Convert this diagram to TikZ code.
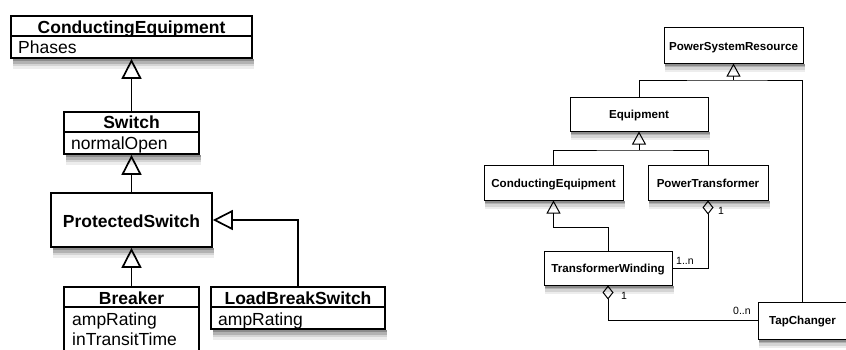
\documentclass[tikz,border=0pt]{standalone}
\usepackage{fontspec}
\setmainfont{Liberation Sans}
\usetikzlibrary{arrows.meta}

\begin{document}
\begin{tikzpicture}[x=1pt,y=-1pt,
  shadeA/.style={fill=black!45},
  shadeB/.style={fill=black!30},
  shadeC/.style={fill=black!17},
  shadeD/.style={fill=black!7},
  bigbox/.style={draw,line width=1.7pt,fill=white,inner sep=0pt},
  smallbox/.style={draw,line width=1pt,fill=white,inner sep=0pt},
  bigtitle/.style={font=\fontsize{17.5}{20}\selectfont\bfseries,inner sep=0pt,anchor=base},
  bigattr/.style={font=\fontsize{17.5}{20}\selectfont,inner sep=0pt,anchor=base west},
  smalltitle/.style={font=\fontsize{11.6}{13}\selectfont\bfseries,inner sep=0pt,anchor=base},
  mult/.style={font=\fontsize{10.5}{12}\selectfont,inner sep=0pt,anchor=base west},
  divider/.style={line width=1.7pt},
  biggen/.style={line width=1.7pt,-{Triangle[open,length=20pt,width=20pt]}},
  smallgen/.style={line width=1pt,-{Triangle[open,length=13pt,width=14pt]}},
  agg/.style={line width=1pt,{Diamond[open,length=14pt,width=11pt]}-},
  link/.style={line width=1pt}
]
\useasboundingbox (0,0) rectangle (846,349);

% ---------- boxes: class hierarchy of switches ----------
\node[bigbox,minimum width=241pt,minimum height=42pt] (ce) at (131.5,37) {};
\node[bigbox,minimum width=135pt,minimum height=42pt] (sw) at (131.5,133) {};
\node[bigbox,minimum width=161pt,minimum height=54pt] (ps) at (131.5,220) {};
\node[bigbox,minimum width=135pt,minimum height=93pt] (br) at (131.5,333.5) {};
\node[bigbox,minimum width=174pt,minimum height=42pt] (lb) at (298,308) {};

% ---------- boxes: transformer model ----------
\node[smallbox,minimum width=139pt,minimum height=36pt] (psr) at (733.5,45) {};
\node[smallbox,minimum width=138pt,minimum height=34pt] (eq) at (639,114) {};
\node[smallbox,minimum width=139pt,minimum height=35pt] (ce2) at (553.5,182.5) {};
\node[smallbox,minimum width=120pt,minimum height=35pt] (pt) at (708,182.5) {};
\node[smallbox,minimum width=128pt,minimum height=34pt] (tw) at (608,268) {};
\node[smallbox,minimum width=89pt,minimum height=37pt] (tc) at (802.5,320.5) {};

% soft shadows just below the boxes: grey bands fading downwards
\fill[shadeD] (13,59) rectangle (254,69);
\fill[shadeC] (13,59) rectangle (254,66);
\fill[shadeB] (13,59) rectangle (254,63.5);
\fill[shadeA] (13,59) rectangle (254,61);

\fill[shadeD] (66,155) rectangle (201,165);
\fill[shadeC] (66,155) rectangle (201,162);
\fill[shadeB] (66,155) rectangle (201,159.5);
\fill[shadeA] (66,155) rectangle (201,157);

\fill[shadeD] (53,248) rectangle (214,258);
\fill[shadeC] (53,248) rectangle (214,255);
\fill[shadeB] (53,248) rectangle (214,252.5);
\fill[shadeA] (53,248) rectangle (214,250);

\fill[shadeD] (213,330) rectangle (387,340);
\fill[shadeC] (213,330) rectangle (387,337);
\fill[shadeB] (213,330) rectangle (387,334.5);
\fill[shadeA] (213,330) rectangle (387,332);

\fill[shadeD] (665,63.5) rectangle (805,72);
\fill[shadeC] (665,63.5) rectangle (805,69.5);
\fill[shadeB] (665,63.5) rectangle (805,67);
\fill[shadeA] (665,63.5) rectangle (805,65.5);

\fill[shadeD] (571,131.5) rectangle (710,140);
\fill[shadeC] (571,131.5) rectangle (710,137.5);
\fill[shadeB] (571,131.5) rectangle (710,135);
\fill[shadeA] (571,131.5) rectangle (710,133.5);

\fill[shadeD] (485,200.5) rectangle (625,209);
\fill[shadeC] (485,200.5) rectangle (625,206.5);
\fill[shadeB] (485,200.5) rectangle (625,204);
\fill[shadeA] (485,200.5) rectangle (625,202.5);

\fill[shadeD] (649,200.5) rectangle (770,209);
\fill[shadeC] (649,200.5) rectangle (770,206.5);
\fill[shadeB] (649,200.5) rectangle (770,204);
\fill[shadeA] (649,200.5) rectangle (770,202.5);

\fill[shadeD] (545,285.5) rectangle (674,294);
\fill[shadeC] (545,285.5) rectangle (674,291.5);
\fill[shadeB] (545,285.5) rectangle (674,289);
\fill[shadeA] (545,285.5) rectangle (674,287.5);

\fill[shadeD] (759,339.5) rectangle (849,348);
\fill[shadeC] (759,339.5) rectangle (849,345.5);
\fill[shadeB] (759,339.5) rectangle (849,343);
\fill[shadeA] (759,339.5) rectangle (849,341.5);

% ---------- compartments and texts ----------
\draw[divider] ([yshift=-21pt]ce.north west) -- ([yshift=-21pt]ce.north east);
\node[bigtitle] (ceT) at (131.5,33) {ConductingEquipment};
\node[bigattr] (ceA) at (18,53) {Phases};

\draw[divider] ([yshift=-21pt]sw.north west) -- ([yshift=-21pt]sw.north east);
\node[bigtitle] (swT) at (131.5,128) {Switch};
\node[bigattr] (swA) at (71,149) {normalOpen};

\node[bigtitle] (psT) at (131.5,227.5) {ProtectedSwitch};

\draw[divider] ([yshift=-21pt]br.north west) -- ([yshift=-21pt]br.north east);
\node[bigtitle] (brT) at (131.5,304) {Breaker};
\node[bigattr] (brA1) at (72,325.5) {ampRating};
\node[bigattr] (brA2) at (72,345) {inTransitTime};

\draw[divider] ([yshift=-21pt]lb.north west) -- ([yshift=-21pt]lb.north east);
\node[bigtitle] (lbT) at (298,304) {LoadBreakSwitch};
\node[bigattr] (lbA) at (218,325) {ampRating};

\node[smalltitle] (psrT) at (733.5,50) {PowerSystemResource};
\node[smalltitle] (eqT) at (639,118) {Equipment};
\node[smalltitle] (ce2T) at (553.5,187) {ConductingEquipment};
\node[smalltitle] (ptT) at (708,187) {PowerTransformer};
\node[smalltitle] (twT) at (608,272.5) {TransformerWinding};
\node[smalltitle] (tcT) at (802.5,324.5) {TapChanger};

% ---------- connectors ----------
\draw[biggen] (sw.north) -- (ce.south);
\draw[biggen] (ps.north) -- (sw.south);
\draw[biggen] (br.north) -- (ps.south);
\draw[biggen] (lb.north) |- (ps.east);

\coordinate (j1) at (733.5,80);
\draw[link] (eq.north) |- (j1) -| (tc.north);
\draw[smallgen] (j1) -- (psr.south);

\coordinate (j2) at (639,150);
\draw[link] (ce2.north) |- (j2) -| (pt.north);
\draw[smallgen] (j2) -- (eq.south);

\coordinate (j3) at (553.5,227);
\draw[smallgen] (tw.north) |- (j3) -- (ce2.south);

\draw[agg] (pt.south) |- (tw.east);
\draw[agg] (tw.south) |- (tc.west);

\node[mult] (m1) at (718,214) {1};
\node[mult] (m2) at (676,264) {1..n};
\node[mult] (m3) at (621,299) {1};
\node[mult] (m4) at (733,314) {0..n};
\end{tikzpicture}
\end{document}
